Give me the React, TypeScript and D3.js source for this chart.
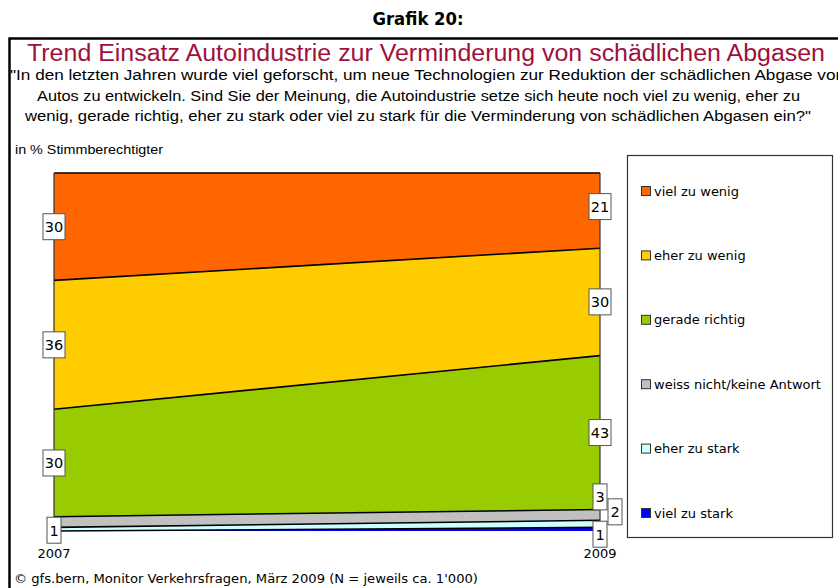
import React from "react";
import * as d3 from "d3";

const years = ["2007", "2009"];
const categories = [
  "viel zu wenig",
  "eher zu wenig",
  "gerade richtig",
  "weiss nicht/keine Antwort",
  "eher zu stark",
  "viel zu stark",
];
const values2007 = [30, 36, 30, 3, 1, 0];
const values2009 = [21, 30, 43, 3, 2, 1];
// which value labels are shown in the reference
const shown2007 = [true, true, true, false, true, false];
const shown2009 = [true, true, true, true, true, true];
const colors = ["#FF6600", "#FFCC00", "#99CC00", "#C0C0C0", "#CCFFFF", "#0000FF"];

const subtitleLines = [
  '"In den letzten Jahren wurde viel geforscht, um neue Technologien zur Reduktion der schädlichen Abgase von',
  "Autos zu entwickeln. Sind Sie der Meinung, die Autoindustrie setze sich heute noch viel zu wenig, eher zu",
  'wenig, gerade richtig, eher zu stark oder viel zu stark für die Verminderung von schädlichen Abgasen ein?"',
];

const W = 838;
const H = 588;
const plot = { left: 54, right: 600, top: 173, bottom: 531 };

// label nudges to avoid overlaps (as in the source chart)
const nudge2009: [number, number][] = [
  [0, -4], [0, 0], [0, 0], [0, -18], [15, -12], [0, 5],
];
const nudge2007: [number, number][] = [
  [0, 0], [0, 0], [0, 0], [0, 0], [0, 1], [0, 0],
];

export default function App() {
  const x = d3.scalePoint<string>().domain(years).range([plot.left, plot.right]);
  const y = d3.scaleLinear().domain([0, 100]).range([plot.bottom, plot.top]);

  const rows = years.map((yr, i) => {
    const r: any = { year: yr };
    categories.forEach((c, j) => {
      r[c] = i === 0 ? values2007[j] : values2009[j];
    });
    return r;
  });
  const keys = categories.slice().reverse();
  const stacked = d3.stack<any>().keys(keys)(rows);
  const area = d3
    .area<any>()
    .x((d) => x(d.data.year) as number)
    .y0((d) => y(d[0]))
    .y1((d) => y(d[1]));
  const line = d3
    .line<any>()
    .x((d) => x(d.data.year) as number)
    .y((d) => y(d[1]));

  const narrow = "'Liberation Sans Narrow', 'Liberation Sans', Arial, sans-serif";
  const sans = "'DejaVu Sans', Verdana, sans-serif";

  const labels: JSX.Element[] = [];
  stacked.forEach((s) => {
    const ci = categories.indexOf(s.key);
    s.forEach((d: any, yi: number) => {
      const val = d[1] - d[0];
      const show = yi === 0 ? shown2007[ci] : shown2009[ci];
      if (!show) return;
      const nd = yi === 0 ? nudge2007[ci] : nudge2009[ci];
      const cx = (x(d.data.year) as number) + nd[0];
      const cy = (y(d[0]) + y(d[1])) / 2 + nd[1];
      const txt = String(val);
      const bw = txt.length > 1 ? 22 : 14;
      const bh = 26;
      labels.push(
        <g key={`${s.key}-${yi}`}>
          <rect
            x={cx - bw / 2}
            y={cy - bh / 2}
            width={bw}
            height={bh}
            fill="#fff"
            stroke="#555"
            strokeWidth={1}
          />
          <text
            x={cx}
            y={cy + 5.5}
            textAnchor="middle"
            fontFamily={sans}
            fontSize={14.5}
            fill="#000"
          >
            {txt}
          </text>
        </g>
      );
    });
  });

  const legendTop = 191;
  const legendStep = 64.4;

  return (
    <div style={{ position: "absolute", left: 0, top: 0 }}>
      <svg width={W} height={H} style={{ display: "block", background: "#fff" }}>
        <text
          x={418}
          y={25}
          textAnchor="middle"
          fontFamily="'DejaVu Sans Condensed', 'Liberation Sans Narrow', sans-serif"
          fontWeight="bold"
          fontSize={17}
          textLength={91}
          lengthAdjust="spacingAndGlyphs"
        >
          Grafik 20:
        </text>
        <rect x={9.5} y={38.5} width={840} height={570} fill="none" stroke="#000" strokeWidth={2.5} />
        <text
          x={27}
          y={61}
          fontFamily={narrow}
          fontSize={23}
          fill="#A0103C"
          textLength={798}
          lengthAdjust="spacingAndGlyphs"
        >
          Trend Einsatz Autoindustrie zur Verminderung von schädlichen Abgasen
        </text>
        {subtitleLines.map((l, i) => {
          const starts = [10, 37, 25];
          const lens = [835, 763, 786];
          return (
            <text
              key={i}
              x={starts[i]}
              y={80 + i * 20.5}
              fontFamily={narrow}
              fontSize={15.5}
              fill="#000"
              textLength={lens[i]}
              lengthAdjust="spacingAndGlyphs"
            >
              {l}
            </text>
          );
        })}
        <text
          x={15}
          y={154}
          fontFamily={narrow}
          fontSize={13}
          textLength={148}
          lengthAdjust="spacingAndGlyphs"
        >
          in % Stimmberechtigter
        </text>

        {stacked.map((s) => {
          const ci = categories.indexOf(s.key);
          return <path key={s.key} d={area(s as any) || ""} fill={colors[ci]} stroke="none" />;
        })}
        {stacked.map((s) => (
          <path key={"l" + s.key} d={line(s as any) || ""} fill="none" stroke="#000" strokeWidth={1.6} />
        ))}
        <line x1={plot.left} x2={plot.left} y1={plot.top} y2={plot.bottom} stroke="#333" strokeWidth={1.2} />
        <line x1={plot.right} x2={plot.right} y1={plot.top} y2={plot.bottom} stroke="#333" strokeWidth={1.2} />
        <line x1={plot.left} x2={plot.right} y1={plot.top} y2={plot.top} stroke="#333" strokeWidth={1.2} />

        {labels}

        {years.map((yr) => (
          <text
            key={yr}
            x={x(yr) as number}
            y={558}
            textAnchor="middle"
            fontFamily={sans}
            fontSize={13}
          >
            {yr}
          </text>
        ))}

        <rect x={627.5} y={155.5} width={205} height={382} fill="#fff" stroke="#333" strokeWidth={1.2} />
        {categories.map((c, i) => {
          const cy = legendTop + i * legendStep;
          return (
            <g key={c}>
              <rect x={641.5} y={cy - 4.5} width={9} height={9} fill={colors[i]} stroke="#333" strokeWidth={1} />
              <text x={654} y={cy + 4.5} fontFamily={sans} fontSize={13}>
                {c}
              </text>
            </g>
          );
        })}

        <text
          x={14}
          y={583}
          fontFamily={sans}
          fontSize={13}
          textLength={464}
          lengthAdjust="spacingAndGlyphs"
        >
          © gfs.bern, Monitor Verkehrsfragen, März 2009 (N = jeweils ca. 1'000)
        </text>
      </svg>
    </div>
  );
}
